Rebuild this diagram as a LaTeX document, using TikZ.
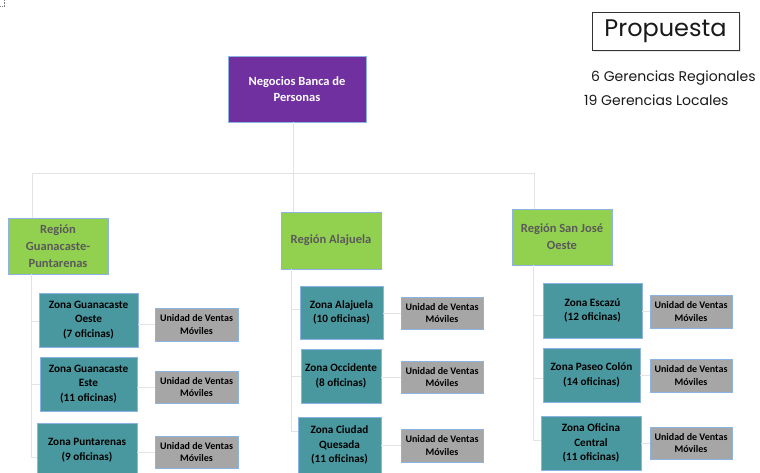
\documentclass[tikz,border=0pt]{standalone}
\usepackage{fontspec}
\setmainfont{Carlito}
\newfontfamily\gothic{Poppins}
\definecolor{purp}{HTML}{7030A0}
\definecolor{grn}{HTML}{92D050}
\definecolor{teal2}{HTML}{4A989F}
\definecolor{ugray}{HTML}{A6A6A6}
\definecolor{bord}{HTML}{8DB3E2}
\definecolor{conn}{HTML}{E3E3E3}
\definecolor{rtext}{HTML}{5A5A5A}
\begin{document}
\begin{tikzpicture}[x=1pt,y=-1pt,
  box/.style={draw=bord, line width=0.8pt, align=center, inner sep=1pt, font=\bfseries\fontsize{11}{14}\selectfont},
  topbox/.style={box, fill=purp, text=white, minimum width=138pt, minimum height=66pt, font=\bfseries\fontsize{12.5}{16}\selectfont},
  regbox/.style={box, fill=grn, text=rtext, minimum width=100pt, minimum height=56pt, font=\bfseries\fontsize{12.5}{17}\selectfont},
  zonebox/.style={box, fill=teal2, text=black, minimum height=54pt, font=\bfseries\fontsize{11.2}{14.5}\selectfont},
  unitbox/.style={box, fill=ugray, text=black, minimum width=82pt, minimum height=33pt, font=\bfseries\fontsize{10}{12.7}\selectfont},
  link/.style={draw=conn, line width=1pt},
  proptext/.style={inner sep=0pt, font=\gothic\fontsize{24}{28}\selectfont}]
\useasboundingbox (0,0) rectangle (760,472);
\begin{scope}
\clip (0,0) rectangle (760,472);
% corner mark
\draw[gray, densely dotted, line width=0.5pt] (4,0) -- (4,6) -- (0,6);
% coordinates for connectors
\coordinate (bus1) at (32,173);
\coordinate (bus2) at (293,173);
\coordinate (bus3) at (534,173);
% nodes
\node[topbox] (neg) at (297,89) {Negocios Banca de\\Personas};
\node[regbox] (rg) at (58,246) {Región\\Guanacaste-\\Puntarenas};
\node[regbox, minimum height=57pt] (ra) at (331,240.5) {Región Alajuela};
\node[regbox] (rs) at (562,237) {Región San José\\Oeste};
% zones G
\node[zonebox, minimum width=99pt] (g1) at (88.5,320) {Zona Guanacaste\\Oeste\\(7 oficinas)};
\node[zonebox, minimum width=97pt] (g2) at (88.5,384) {Zona Guanacaste\\Este\\(11 oficinas)};
\node[zonebox, minimum width=100pt] (g3) at (87,450) {Zona Puntarenas\\(9 oficinas)};
\node[unitbox, minimum width=83pt] (ug1) at (196.5,324.5) {Unidad de Ventas\\Móviles};
\node[unitbox, minimum width=83pt, minimum height=32pt] (ug2) at (196.5,387) {Unidad de Ventas\\Móviles};
\node[unitbox, minimum width=83pt, minimum height=32pt] (ug3) at (196.5,452) {Unidad de Ventas\\Móviles};
% zones A
\node[zonebox, minimum width=83pt, minimum height=53pt] (a1) at (341.5,312.5) {Zona Alajuela\\(10 oficinas)};
\node[zonebox, minimum width=80pt] (a2) at (341,376) {Zona Occidente\\(8 oficinas)};
\node[zonebox, minimum width=83pt, minimum height=56pt] (a3) at (339.5,445) {Zona Ciudad\\Quesada\\(11 oficinas)};
\node[unitbox, minimum height=32pt] (ua1) at (442,313) {Unidad de Ventas\\Móviles};
\node[unitbox, minimum height=32pt] (ua2) at (442,377) {Unidad de Ventas\\Móviles};
\node[unitbox] (ua3) at (442,445.5) {Unidad de Ventas\\Móviles};
% zones S
\node[zonebox, minimum width=99pt, minimum height=55pt] (s1) at (592.5,310.5) {Zona Escazú\\(12 oficinas)};
\node[zonebox, minimum width=97pt] (s2) at (591.5,375) {Zona Paseo Colón\\(14 oficinas)};
\node[zonebox, minimum width=100pt] (s3) at (591,443) {Zona Oficina\\Central\\(11 oficinas)};
\node[unitbox] (us1) at (691,311.5) {Unidad de Ventas\\Móviles};
\node[unitbox] (us2) at (691,375.5) {Unidad de Ventas\\Móviles};
\node[unitbox, minimum height=32pt] (us3) at (691,443) {Unidad de Ventas\\Móviles};
% connectors top
\draw[link] (neg.south -| bus2) -- (bus2);
\draw[link] (bus1) -- (bus3);
\draw[link] (bus1) -- (rg.north -| bus1);
\draw[link] (bus2) -- (ra.north -| bus2);
\draw[link] (bus3) -- (rs.north -| bus3);
% spines
\coordinate (gs) at (31,457);
\draw[link] (rg.south -| gs) -- (gs) -- (gs -| g3.west);
\draw[link] (31,321) -- (31,321 -| g1.west);
\draw[link] (31,384) -- (31,384 -| g2.west);
\coordinate (as) at (291,431);
\draw[link] (ra.south -| as) -- (as) -- (as -| a3.west);
\draw[link] (291,309) -- (291,309 -| a1.west);
\draw[link] (291,376) -- (291,376 -| a2.west);
\coordinate (ss) at (533,440);
\draw[link] (rs.south -| ss) -- (ss) -- (ss -| s3.west);
\draw[link] (533,315) -- (533,315 -| s1.west);
\draw[link] (533,378) -- (533,378 -| s2.west);
% zone to unit
\foreach \z/\u in {g1/ug1,g2/ug2,g3/ug3,a1/ua1,a2/ua2,a3/ua3,s1/us1,s2/us2,s3/us3}
  \draw[link] (\z.east |- \u.west) -- (\u.west);
% Propuesta
\fill[black!15, opacity=0.6] (594,14.5) rectangle (741,52);
\node[draw=black!80, line width=0.7pt, fill=white, minimum width=147pt, minimum height=38pt, inner sep=0pt,
  proptext, text=black!90] (prop) at (665.5,31) {Propuesta};
\node[anchor=west, inner sep=0pt, font=\gothic\fontsize{14}{16}\selectfont, text=black!90] (gr) at (591,78) {6 Gerencias Regionales};
\node[anchor=west, inner sep=0pt, font=\gothic\fontsize{14}{16}\selectfont, text=black!90] (gl) at (584,100) {19 Gerencias Locales};
\end{scope}
\end{tikzpicture}
\end{document}
